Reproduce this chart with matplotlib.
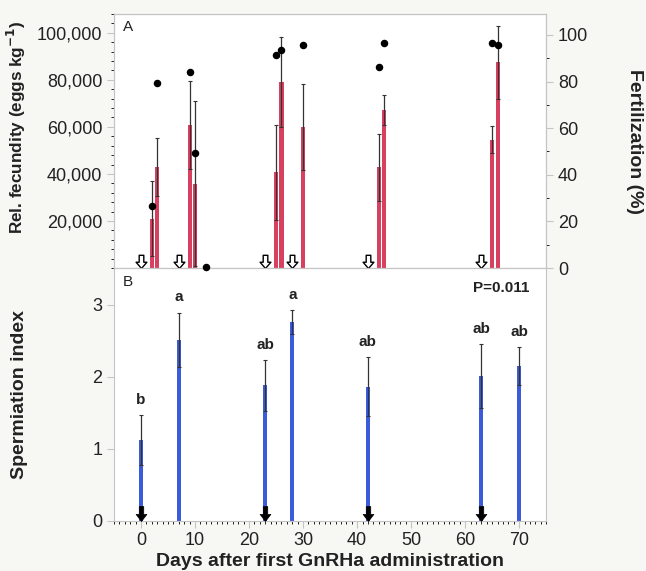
"""Fecundity / fertilization (A) and spermiation index (B) vs days after first GnRHa."""
import matplotlib
matplotlib.use("Agg")
import matplotlib.pyplot as plt
from matplotlib.path import Path
from matplotlib.ticker import FuncFormatter, MultipleLocator

plt.rcParams["font.family"] = ["Liberation Sans", "DejaVu Sans"]

# panel A: relative fecundity (eggs/kg) with SE, fertilization (%)
fec_days = [2, 3, 9, 10, 25, 26, 30, 44, 45, 65, 66]
fec_mean = [21000, 43000, 60700, 35900, 40700, 79100, 59900, 42800, 67200, 54500, 87500]
fec_se = [15800, 12300, 18800, 35000, 20200, 19200, 18200, 14200, 6400, 5800, 15500]
fert_days = [2, 3, 9, 10, 12, 25, 26, 30, 44, 45, 65, 66]
fert_pct = [26.7, 79.6, 84.0, 49.5, 0.5, 91.3, 93.6, 95.6, 86.2, 96.6, 96.6, 95.6]
sampling_days = [0, 7, 23, 28, 42, 63]

# panel B: spermiation index with SE and letters
sperm_days = [0, 7, 23, 28, 42, 63, 70]
sperm_mean = [1.12, 2.51, 1.88, 2.76, 1.86, 2.01, 2.15]
sperm_se = [0.35, 0.38, 0.355, 0.165, 0.41, 0.44, 0.265]
sperm_letters = ["b", "a", "ab", "a", "ab", "ab", "ab"]
gnrha_days = [0, 23, 42, 63]

RED = "#d8405f"
BLUE = "#3b5bdb"
SPINE = "#c4c4c4"
TXT = "#222222"


def down_arrow(shaft=0.3, head=0.8, neck=0.9):
    # tip at origin so the marker sits on y=0
    verts = [(0, 0), (-head, neck), (-shaft, neck), (-shaft, 2), (shaft, 2),
             (shaft, neck), (head, neck), (0, 0)]
    codes = [Path.MOVETO] + [Path.LINETO] * 6 + [Path.CLOSEPOLY]
    return Path(verts, codes)


fig = plt.figure(figsize=(6.46, 5.71), dpi=100, facecolor="#f7f7f4")
axA = fig.add_axes([0.1765, 0.5306, 0.669, 0.4449])
axB = fig.add_axes([0.1765, 0.0876, 0.669, 0.4430])

for ax in (axA, axB):
    for s in ax.spines.values():
        s.set_color(SPINE)
    ax.set_xlim(-5, 75)
    ax.tick_params(colors=SPINE, labelcolor=TXT, labelsize=13)
    ax.tick_params(which="major", length=5)
    ax.tick_params(which="minor", length=2.5)

# ---- panel A
axA.bar(fec_days, fec_mean, width=0.75, color=RED, zorder=2)
axA.errorbar(fec_days, fec_mean, yerr=fec_se, fmt="none", ecolor="#333333",
             elinewidth=0.9, capsize=1.5, capthick=0.8, zorder=3)
axA.set_ylim(0, 108000)
axA.set_yticks([20000, 40000, 60000, 80000, 100000])
axA.yaxis.set_minor_locator(MultipleLocator(4000))
axA.yaxis.set_major_formatter(FuncFormatter(lambda v, p: f"{int(v):,}"))
axA.tick_params(axis="x", which="both", length=0, labelbottom=False)
axA.plot(sampling_days, [0] * len(sampling_days), ls="none",
         marker=down_arrow(0.35, 0.82, 0.95), ms=19, mfc="white", mec="black",
         mew=1.0, clip_on=False, zorder=4)
axA.text(0.02, 0.935, "A", transform=axA.transAxes, fontsize=11, color=TXT)
axA.set_ylabel("Rel. fecundity (eggs kg$^{\\mathbf{-1}}$)", fontsize=12.3,
               fontweight="bold", color=TXT)
axA.yaxis.set_label_coords(-0.2, 0.555)

axA2 = axA.twinx()
axA2.plot(fert_days, fert_pct, ls="none", marker="o", ms=4.4, color="black",
          clip_on=False, zorder=5)
axA2.set_ylim(0, 109)
axA2.set_yticks([0, 20, 40, 60, 80, 100])
axA2.yaxis.set_minor_locator(MultipleLocator(10))
for s in axA2.spines.values():
    s.set_color(SPINE)
axA2.tick_params(colors=SPINE, labelcolor=TXT, labelsize=13)
axA2.tick_params(which="major", length=5)
axA2.tick_params(which="minor", length=2.5)
axA2.set_ylabel("Fertilization (%)", fontsize=14, fontweight="bold", color=TXT,
                rotation=-90)
axA2.yaxis.set_label_coords(1.225, 0.5)

# ---- panel B
axB.bar(sperm_days, sperm_mean, width=0.75, color=BLUE, zorder=2)
axB.errorbar(sperm_days, sperm_mean, yerr=sperm_se, fmt="none", ecolor="#333333",
             elinewidth=0.9, capsize=1.5, capthick=0.8, zorder=3)
for d, m, e, lab in zip(sperm_days, sperm_mean, sperm_se, sperm_letters):
    axB.annotate(lab, (d, m + e), xytext=(0, 6), textcoords="offset points",
                 ha="center", va="bottom", fontsize=11, fontweight="bold", color=TXT)
axB.plot(gnrha_days, [0] * len(gnrha_days), ls="none",
         marker=down_arrow(0.3, 0.72, 0.95), ms=21.5, mfc="black", mec="black",
         mew=0.5, clip_on=False, zorder=4)
axB.set_ylim(0, 3.51)
axB.set_yticks([0, 1, 2, 3])
axB.set_xticks(range(0, 71, 10))
axB.xaxis.set_minor_locator(MultipleLocator(1))
axB.tick_params(axis="x", pad=3)
axB.text(0.02, 0.93, "B", transform=axB.transAxes, fontsize=11, color=TXT)
axB.text(0.895, 0.905, "P=0.011", transform=axB.transAxes, fontsize=11,
         fontweight="bold", color=TXT, ha="center")
axB.set_ylabel("Spermiation index", fontsize=14, fontweight="bold", color=TXT)
axB.yaxis.set_label_coords(-0.2, 0.5)
axB.set_xlabel("Days after first GnRHa administration", fontsize=14,
               fontweight="bold", color=TXT, labelpad=3)

fig.savefig("out.png", dpi=100, facecolor=fig.get_facecolor())
